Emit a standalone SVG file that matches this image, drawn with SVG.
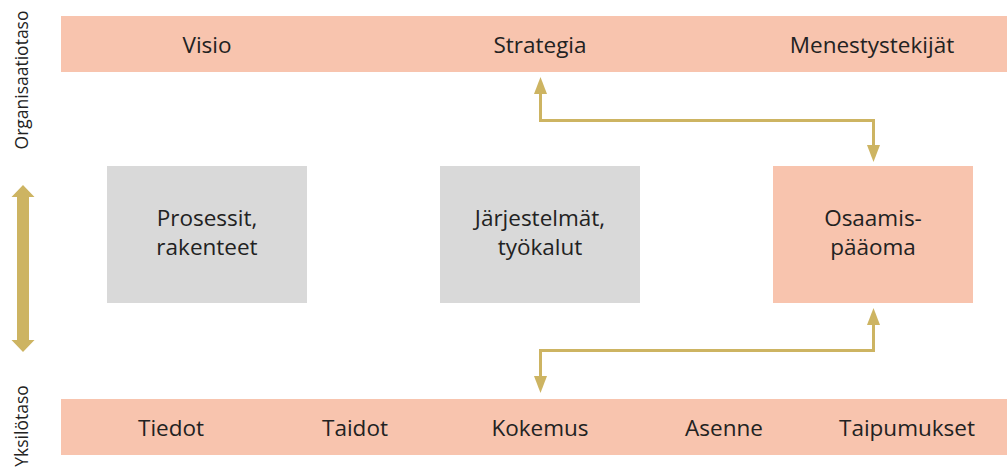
<svg xmlns="http://www.w3.org/2000/svg" width="1007" height="469" viewBox="0 0 1007 469">
<style>
.pink{fill:#F8C4AE}
.gray{fill:#D9D9D9}
.t{font-family:"Open Sans","Liberation Sans",sans-serif;font-size:22.5px;fill:#222;text-anchor:middle}
.side{font-family:"Open Sans","Liberation Sans",sans-serif;font-size:17.5px;fill:#222;text-anchor:middle}
.conn{fill:none;stroke:#CDB462;stroke-width:3}
.head{fill:#CDB462}
</style>
<rect width="1007" height="469" fill="#fff"/>
<g id="org-bar">
<rect class="pink" x="61" y="16" width="946" height="56"/>
<text class="t" x="207" y="53">Visio</text>
<text class="t" x="540" y="53">Strategia</text>
<text class="t" x="872" y="53">Menestystekijät</text>
</g>
<g id="ind-bar">
<rect class="pink" x="61" y="399" width="946" height="56"/>
<text class="t" x="171" y="436">Tiedot</text>
<text class="t" x="355" y="436">Taidot</text>
<text class="t" x="540" y="436">Kokemus</text>
<text class="t" x="724" y="436">Asenne</text>
<text class="t" x="907" y="436">Taipumukset</text>
</g>
<g id="prosessit">
<rect class="gray" x="107" y="166" width="200" height="137"/>
<text class="t" x="207" y="226">Prosessit,</text>
<text class="t" x="207" y="255">rakenteet</text>
</g>
<g id="jarjestelmat">
<rect class="gray" x="440" y="166" width="200" height="137"/>
<text class="t" x="540" y="226">Järjestelmät,</text>
<text class="t" x="540" y="255">työkalut</text>
</g>
<g id="osaamispaaoma">
<rect class="pink" x="773" y="166" width="200" height="137"/>
<text class="t" x="873" y="226">Osaamis-</text>
<text class="t" x="873" y="255">pääoma</text>
</g>
<g id="side-labels">
<text class="side" transform="translate(28,80) rotate(-90)">Organisaatiotaso</text>
<text class="side" transform="translate(28,426) rotate(-90)">Yksilötaso</text>
<path d="M23,185 L34.5,197 L29,197 L29,340 L34.5,340 L23,352 L11.5,340 L17,340 L17,197 L11.5,197 z" fill="#CDB462"/>
</g>
<g id="connectors">
<path class="conn" d="M540.5,94 L540.5,120.5 L873.5,120.5 L873.5,145"/>
<path class="head" d="M540.5,77 L547,94 L534,94 z"/>
<path class="head" d="M873.5,162 L880,145 L867,145 z"/>
<path class="conn" d="M873.5,325 L873.5,350.5 L540.5,350.5 L540.5,376"/>
<path class="head" d="M873.5,308 L880,325 L867,325 z"/>
<path class="head" d="M540.5,393 L547,376 L534,376 z"/>
</g>
</svg>
